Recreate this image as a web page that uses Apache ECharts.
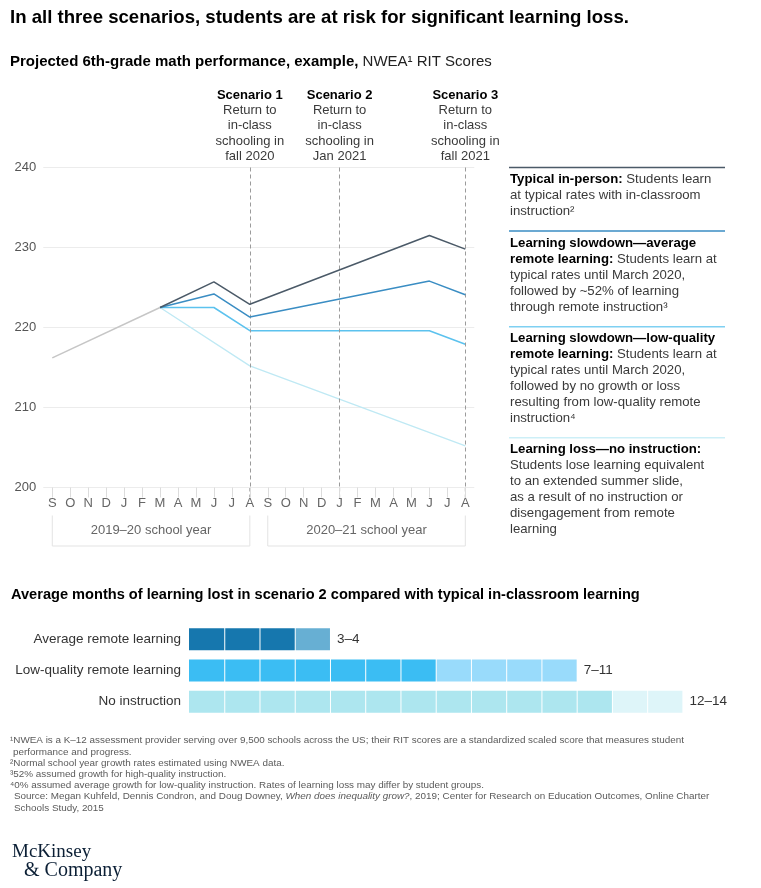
<!DOCTYPE html>
<html><head><meta charset="utf-8">
<script src="https://cdn.jsdelivr.net/npm/echarts@6/dist/echarts.min.js"></script>
<style>html,body{margin:0;padding:0;background:#fff}#c{width:761px;height:888px}</style>
</head><body><div id="c"></div>
<script>
// ---------- data ----------
const months = ['S','O','N','D','J','F','M','A','M','J','J','A','S','O','N','D','J','F','M','A','M','J','J','A'];
const yMin = 200, yMax = 240, yStep = 10;
//                   S      O    N    D    J    F    M      A    M    J      J    A      S    O    N    D    J    F    M    A    M    J      J    A
const baseline    = [216.2,null,null,null,null,null,222.5,null,null,null,  null,null,  null,null,null,null,null,null,null,null,null,null,  null,null];
const typical     = [null, null,null,null,null,null,222.5,null,null,225.7,null,222.9, null,null,null,null,null,null,null,null,null,231.5, null,229.8];
const avgRemote   = [null, null,null,null,null,null,222.5,null,null,224.2,null,221.3, null,null,null,null,null,null,null,null,null,225.8, null,224.1];
const lowQuality  = [null, null,null,null,null,null,222.5,null,null,222.5,null,219.6, null,null,null,null,null,null,null,null,null,219.6, null,217.9];
const noInstr     = [null, null,null,null,null,null,222.5,null,null,null,  null,215.2, null,null,null,null,null,null,null,null,null,null,  null,205.2];

const scenarioIdx   = [11, 16, 23];
const scenarioNames = ['Scenario 1','Scenario 2','Scenario 3'];
const scenarioText  = ['Return to\nin-class\nschooling in\nfall 2020','Return to\nin-class\nschooling in\nJan 2021','Return to\nin-class\nschooling in\nfall 2021'];

const yearLabels = ['2019–20 school year','2020–21 school year'];
const yearStart  = [0, 12];
const yearEnd    = [11, 23];

const barCats   = ['Average remote learning','Low-quality remote learning','No instruction'];
const lostLow   = [3, 7, 12];
const lostHigh  = [4, 11, 14];
const barLabels = ['3–4','7–11','12–14'];

// ---------- style ----------
const FONT = '"Liberation Sans", Arial, Helvetica, sans-serif';
const C_TYP = '#4b5a68', C_AVG = '#3a8dc3', C_LOW = '#5cc2ee', C_NO = '#bfe9f4', C_BASE = '#c6c6c6';
const barDark  = ['#1677ae', '#3bbdf3', '#ade6ef'];
const barLight = ['#67afd3', '#99dbfb', '#def5f9'];

const chart = echarts.init(document.getElementById('c'), null, {renderer:'canvas'});

function lineSeries(name, data, color, width, z) {
  return {
    name, type:'line', data, connectNulls:true, symbol:'none', z,
    lineStyle:{color, width}, itemStyle:{color}, silent:true, animation:false
  };
}

const legendBlocks = [
  {y:167.5, color:C_TYP, text:'{b|Typical in-person:} Students learn\nat typical rates with in-classroom\ninstruction²'},
  {y:231, color:C_AVG, text:'{b|Learning slowdown—average}\n{b|remote learning:} Students learn at\ntypical rates until March 2020,\nfollowed by ~52% of learning\nthrough remote instruction³'},
  {y:326.7, color:'#7fd0f2', text:'{b|Learning slowdown—low-quality}\n{b|remote learning:} Students learn at\ntypical rates until March 2020,\nfollowed by no growth or loss\nresulting from low-quality remote\ninstruction⁴'},
  {y:437.7, color:'#cdeff7', text:'{b|Learning loss—no instruction:}\nStudents lose learning equivalent\nto an extended summer slide,\nas a result of no instruction or\ndisengagement from remote\nlearning'}
];

const footLines = [
  {x:10, t:'¹NWEA is a K–12 assessment provider serving over 9,500 schools across the US; their RIT scores are a standardized scaled score that measures student'},
  {x:13, t:'performance and progress.'},
  {x:10, t:'²Normal school year growth rates estimated using NWEA data.'},
  {x:10, t:'³52% assumed growth for high-quality instruction.'},
  {x:10, t:'⁴0% assumed average growth for low-quality instruction. Rates of learning loss may differ by student groups.'},
  {x:14, t:'Source: Megan Kuhfeld, Dennis Condron, and Doug Downey, {i|When does inequality grow?}, 2019; Center for Research on Education Outcomes, Online Charter'},
  {x:14, t:'Schools Study, 2015'}
];

const graphics = [];
graphics.push({type:'text', x:10, y:18, style:{text:'In all three scenarios, students are at risk for significant learning loss.', font:'bold 18.6px '+FONT, fill:'#000', verticalAlign:'middle'}});
graphics.push({type:'text', x:10, y:62, style:{text:'{b|Projected 6th-grade math performance, example,} NWEA¹ RIT Scores', font:'15px '+FONT, fill:'#222', verticalAlign:'middle', rich:{b:{font:'bold 15px '+FONT, fill:'#000'}}}});
legendBlocks.forEach(b => {
  graphics.push({type:'line', shape:{x1:509, y1:b.y, x2:725, y2:b.y}, style:{stroke:b.color, lineWidth:1.5}});
  graphics.push({type:'text', x:510, y:b.y+4, style:{text:b.text, font:'13.2px '+FONT, fill:'#3a3a3a', lineHeight:16,
    rich:{b:{font:'bold 13.2px '+FONT, fill:'#000', lineHeight:16}}}});
});
graphics.push({type:'text', x:11, y:595, style:{text:'Average months of learning lost in scenario 2 compared with typical in-classroom learning', font:'bold 14.6px '+FONT, fill:'#000', verticalAlign:'middle'}});
footLines.forEach((f, i) => {
  graphics.push({type:'text', x:f.x, y:740.7 + i*11.2, style:{text:f.t, font:'9.9px '+FONT, fill:'#5a5a5a', verticalAlign:'middle',
    rich:{i:{font:'italic 9.9px '+FONT, fill:'#5a5a5a'}}}});
});
graphics.push({type:'text', x:12, y:852, style:{text:'McKinsey', font:'19px "Liberation Serif", "Times New Roman", serif', fill:'#0b1f35', verticalAlign:'middle'}});
graphics.push({type:'text', x:24, y:871, style:{text:'& Company', font:'20px "Liberation Serif", "Times New Roman", serif', fill:'#0b1f35', verticalAlign:'middle'}});

const option = {
  animation:false,
  backgroundColor:'#fff',
  textStyle:{fontFamily:FONT},
  grid:[
    {left:43.3, right:286.7, top:167.5, bottom:400.5, containLabel:false},
    {left:189, right:78.6, top:623.7, bottom:170.7, containLabel:false}
  ],
  xAxis:[
    {type:'category', gridIndex:0, data:months, boundaryGap:true,
     axisLine:{show:false},
     axisTick:{show:true, alignWithLabel:true, length:10, lineStyle:{color:'#dcdcdc'}},
     axisLabel:{color:'#666', fontSize:13, margin:9, interval:0, fontFamily:FONT},
     splitLine:{show:false}},
    {type:'value', gridIndex:1, min:0, max:14, show:false}
  ],
  yAxis:[
    {type:'value', gridIndex:0, min:yMin, max:yMax, interval:yStep,
     axisLine:{show:false}, axisTick:{show:false},
     axisLabel:{color:'#555', fontSize:13, margin:7, fontFamily:FONT},
     splitLine:{show:true, lineStyle:{color:'#ececec', width:1}}},
    {type:'category', gridIndex:1, data:barCats, inverse:true,
     axisLine:{show:false}, axisTick:{show:false},
     axisLabel:{color:'#333', fontSize:13.5, margin:8, fontFamily:FONT}}
  ],
  series:[
    Object.assign(lineSeries('Baseline', baseline, C_BASE, 1.5, 2), {
      markLine:{symbol:'none', silent:true, label:{show:false}, animation:false,
        lineStyle:{type:[4,3], color:'#9b9b9b', width:1},
        data: scenarioIdx.map(i => [{coord:[i, yMax]}, {coord:[i, yMin]}])}
    }),
    lineSeries('Learning loss—no instruction', noInstr, C_NO, 1.3, 3),
    lineSeries('Learning slowdown—low-quality remote learning', lowQuality, C_LOW, 1.5, 4),
    lineSeries('Learning slowdown—average remote learning', avgRemote, C_AVG, 1.5, 5),
    lineSeries('Typical in-person', typical, C_TYP, 1.5, 6),
    {
      type:'custom', name:'Months lost', xAxisIndex:1, yAxisIndex:1, silent:true,
      encode:{x:[1,2], y:0},
      data: barCats.map((c, i) => [i, lostLow[i], lostHigh[i]]),
      renderItem(params, api){
        const row = api.value(0), lo = api.value(1), hi = api.value(2);
        const h = 22, children = [];
        for (let m = 0; m < hi; m++) {
          const p0 = api.coord([m, row]), p1 = api.coord([m+1, row]);
          const gap = m ? 1 : 0;
          children.push({type:'rect', shape:{x:p0[0]+gap, y:p0[1]-h/2, width:p1[0]-p0[0]-gap, height:h},
            style:{fill: m < lo ? barDark[row] : barLight[row]}});
        }
        const pe = api.coord([hi, row]);
        children.push({type:'text', x:pe[0]+7, y:pe[1], style:{text:barLabels[row], font:'13.5px '+FONT, fill:'#333', verticalAlign:'middle'}});
        return {type:'group', children};
      }
    }
  ],
  graphic: graphics
};
chart.setOption(option);

// positions derived from the axes
const extra = [];
scenarioIdx.forEach((idx, k) => {
  const p = chart.convertToPixel({gridIndex:0}, [idx, yMax]);
  const q = chart.convertToPixel({gridIndex:0}, [idx, yMin]);
  extra.push({type:'text', x:p[0], y:87.5, style:{text:'{b|'+scenarioNames[k]+'}\n'+scenarioText[k], font:'13px '+FONT, fill:'#3a3a3a', align:'center', lineHeight:15.3,
    rich:{b:{font:'bold 13px '+FONT, fill:'#000', lineHeight:15.3}}}});
  // dashed line continues through the tick area below the axis
  extra.push({type:'line', shape:{x1:q[0], y1:q[1], x2:q[0], y2:q[1]+10}, style:{stroke:'#9b9b9b', lineWidth:1, lineDash:[4,3]}});
});
yearLabels.forEach((lab, k) => {
  const a = chart.convertToPixel({gridIndex:0}, [yearStart[k], yMin]);
  const b = chart.convertToPixel({gridIndex:0}, [yearEnd[k], yMin]);
  const top = a[1] + 28, bot = a[1] + 58.5;
  extra.push({type:'polyline', shape:{points:[[a[0], top],[a[0], bot],[b[0], bot],[b[0], top]]}, style:{stroke:'#e3e3e3', lineWidth:1, fill:null}});
  extra.push({type:'text', x:(a[0]+b[0])/2, y:(top+bot)/2, style:{text:lab, font:'13px '+FONT, fill:'#666', align:'center', verticalAlign:'middle'}});
});
chart.setOption({graphic: graphics.concat(extra)});
</script>
</body></html>
